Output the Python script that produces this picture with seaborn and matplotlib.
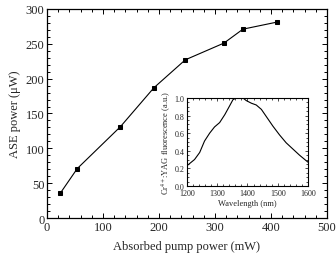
import matplotlib
matplotlib.use('Agg')
import matplotlib.pyplot as plt
import seaborn as sns
import pandas as pd
import numpy as np
from matplotlib.ticker import MultipleLocator

# ASE power vs absorbed pump power
pump_mw = [24, 54, 131, 191, 247, 316, 350, 410]
ase_uw = [36, 71, 131, 187, 227, 251, 271, 281]

# Cr4+:YAG fluorescence spectrum (inset)
wl_nm = [1200, 1225, 1242, 1258, 1275, 1291, 1308, 1325, 1341, 1352, 1363, 1374,
         1385, 1396, 1413, 1429, 1446, 1462, 1484, 1506, 1528, 1550, 1572, 1600]
fluo = [0.23, 0.30, 0.38, 0.51, 0.60, 0.67, 0.72, 0.81, 0.91, 0.98, 1.0, 1.0,
        1.0, 0.97, 0.94, 0.92, 0.87, 0.79, 0.68, 0.58, 0.49, 0.42, 0.35, 0.27]

sns.set_style("ticks")
plt.rcParams['font.family'] = ['Liberation Serif', 'DejaVu Serif']
plt.rcParams['mathtext.fontset'] = 'stix'

main_df = pd.DataFrame({'pump': pump_mw, 'ase': ase_uw})
inset_df = pd.DataFrame({'wl': wl_nm, 'f': fluo})

fig = plt.figure(figsize=(3.36, 2.55), dpi=100)
ax = fig.add_axes([0.14, 0.141, 0.833, 0.82])
sns.lineplot(data=main_df, x='pump', y='ase', marker='s', color='black',
             linewidth=0.8, markersize=3.2, markeredgecolor='black', ax=ax)
ax.set_xlim(0, 500)
ax.set_ylim(0, 300)
ax.xaxis.set_major_locator(MultipleLocator(100))
ax.xaxis.set_minor_locator(MultipleLocator(20))
ax.yaxis.set_major_locator(MultipleLocator(50))
ax.yaxis.set_minor_locator(MultipleLocator(10))
ax.tick_params(which='both', direction='in', top=True, right=True, labelsize=9,
               width=0.7, color='black', pad=2)
ax.tick_params(which='major', length=3.5)
ax.tick_params(which='minor', length=2)
ax.set_xlabel('Absorbed pump power (mW)', fontsize=9, labelpad=5)
ax.set_ylabel('ASE power (μW)', fontsize=9, labelpad=3)
for s in ax.spines.values():
    s.set_linewidth(0.9)
    s.set_color('black')

ins = fig.add_axes([0.5565, 0.267, 0.36, 0.345])
sns.lineplot(data=inset_df, x='wl', y='f', color='black', linewidth=0.8, ax=ins)
ins.set_xlim(1200, 1600)
ins.set_ylim(0, 1.0)
ins.xaxis.set_major_locator(MultipleLocator(100))
ins.xaxis.set_minor_locator(MultipleLocator(20))
ins.yaxis.set_major_locator(MultipleLocator(0.2))
ins.yaxis.set_minor_locator(MultipleLocator(0.05))
ins.tick_params(which='both', direction='in', top=True, right=True, labelsize=5.8,
                width=0.5, color='black')
ins.tick_params(axis='x', pad=2.5)
ins.tick_params(axis='y', pad=2)
ins.tick_params(which='major', length=2.5)
ins.tick_params(which='minor', length=1.3)
ins.set_xlabel('Wavelength (nm)', fontsize=6, labelpad=1.5)
ins.set_ylabel(r'Cr$^{4+}$:YAG fluorescence (a.u.)', fontsize=6, labelpad=1)
for s in ins.spines.values():
    s.set_linewidth(0.8)
    s.set_color('black')

fig.savefig('out.png', dpi=100)
